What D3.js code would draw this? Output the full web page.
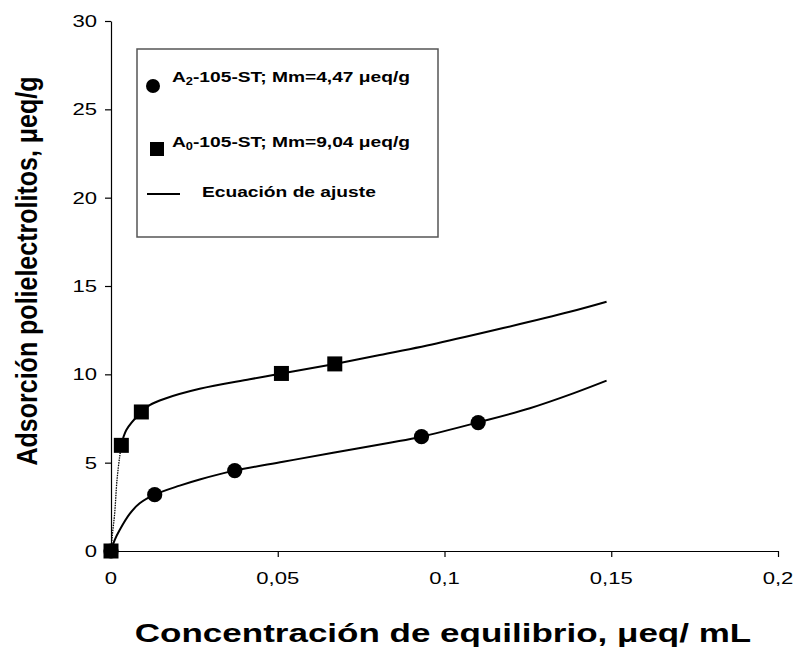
<!DOCTYPE html>
<html>
<head>
<meta charset="utf-8">
<script src="https://cdn.jsdelivr.net/npm/d3@7"></script>
<style>
  html, body { margin: 0; padding: 0; background: #fff; }
  svg { display: block; }
  text { font-family: "Liberation Sans", Arial, sans-serif; fill: #000; }
</style>
</head>
<body>
<svg id="chart" width="797" height="657"></svg>
<script>
// ---- data ----
const xTicks = [0, 0.05, 0.1, 0.15, 0.2];
const xTickLabels = ["0", "0,05", "0,1", "0,15", "0,2"];
const yTicks = [0, 5, 10, 15, 20, 25, 30];
const yTickLabels = ["0", "5", "10", "15", "20", "25", "30"];

// A2-105-ST (circles)
const a2X = [0, 0.0131, 0.0371, 0.0931, 0.1101];
const a2Y = [0, 3.19, 4.55, 6.47, 7.27];
// A0-105-ST (squares)
const a0X = [0, 0.0031, 0.0091, 0.0511, 0.0671];
const a0Y = [0, 5.98, 7.87, 10.05, 10.59];

// fitted curves
const fitA2X = [0, 0.0011, 0.0026, 0.0056, 0.0086, 0.0131, 0.0206, 0.0266, 0.0371, 0.0516, 0.0666, 0.0836, 0.0931, 0.1101, 0.1256, 0.1386, 0.1486];
const fitA2Y = [0, 0.62, 1.19, 2.10, 2.70, 3.19, 3.70, 4.05, 4.55, 5.05, 5.56, 6.13, 6.47, 7.28, 8.08, 8.92, 9.64];
const fitA0DotX = [0, 0.0004, 0.0011, 0.0018, 0.0026, 0.0031];
const fitA0DotY = [0, 0.9, 2.13, 4.02, 5.34, 5.98];
const fitA0X = [0.0031, 0.0046, 0.0091, 0.0116, 0.0161, 0.0266, 0.0416, 0.0511, 0.0671, 0.0806, 0.0976, 0.1176, 0.1376, 0.1486];
const fitA0Y = [5.98, 6.85, 7.87, 8.26, 8.62, 9.18, 9.72, 10.05, 10.59, 11.09, 11.75, 12.62, 13.54, 14.11];

const legendLabels = [
  { main: "A", sub: "2", rest: "-105-ST; Mm=4,47 \u03BCeq/g" },
  { main: "A", sub: "0", rest: "-105-ST; Mm=9,04 \u03BCeq/g" },
  { main: "Ecuación de ajuste", sub: "", rest: "" }
];
const xTitle = "Concentración de equilibrio, \u03BCeq/ mL";
const yTitle = "Adsorción polielectrolitos, \u03BCeq/g";

// ---- chart ----
const svg = d3.select("#chart");
const x = d3.scaleLinear().domain([0, 0.2]).range([111, 778]);
const y = d3.scaleLinear().domain([0, 30]).range([551, 21]);

function stext(g, tx, ty, str, opts) {
  const t = g.append("text")
    .attr("transform", `translate(${tx},${ty}) scale(${opts.sx || 1},1)` + (opts.rot ? ` rotate(${opts.rot})` : ""))
    .attr("text-anchor", opts.anchor || "start")
    .style("font-size", opts.size + "px")
    .style("font-weight", opts.bold ? "bold" : "normal");
  if (opts.dy) t.attr("dy", opts.dy);
  t.text(str);
  return t;
}

// axes (lines + ticks)
const xAxis = d3.axisBottom(x).tickValues(xTicks).tickSize(6).tickSizeOuter(0).tickFormat("");
const yAxis = d3.axisLeft(y).tickValues(yTicks).tickSize(6).tickSizeOuter(0).tickFormat("");
svg.append("g").attr("transform", `translate(0,${y(0)})`).call(xAxis)
  .call(g => g.selectAll("path,line").attr("stroke", "#000").attr("stroke-width", 1.2));
svg.append("g").attr("transform", `translate(${x(0)},0)`).call(yAxis)
  .call(g => g.selectAll("path,line").attr("stroke", "#000").attr("stroke-width", 1.2));

// tick labels
const tl = svg.append("g");
xTicks.forEach((v, i) => stext(tl, x(v), 584, xTickLabels[i], { size: 17, sx: 1.3, anchor: "middle" }));
yTicks.forEach((v, i) => stext(tl, 97, y(v) + 6, yTickLabels[i], { size: 17, sx: 1.3, anchor: "end" }));

// titles
stext(svg, 443, 642, xTitle, { size: 25, sx: 1.4, bold: true, anchor: "middle" });
stext(svg, 37, 271, yTitle, { size: 25, sx: 1.2, bold: true, anchor: "middle", rot: -90 });

// fit lines
const line = d3.line().x(d => x(d[0])).y(d => y(d[1])).curve(d3.curveCatmullRom.alpha(0.5));
const zip = (a, b) => a.map((v, i) => [v, b[i]]);
const plot = svg.append("g");
plot.append("path").datum(zip(fitA0DotX, fitA0DotY)).attr("d", line)
  .attr("fill", "none").attr("stroke", "#000").attr("stroke-width", 1.3).attr("stroke-dasharray", "1.5,1");
plot.append("path").datum(zip(fitA0X, fitA0Y)).attr("d", line)
  .attr("fill", "none").attr("stroke", "#000").attr("stroke-width", 2);
plot.append("path").datum(zip(fitA2X, fitA2Y)).attr("d", line)
  .attr("fill", "none").attr("stroke", "#000").attr("stroke-width", 2);

// markers
plot.selectAll("circle.a2").data(zip(a2X, a2Y)).join("circle").attr("class", "a2")
  .attr("cx", d => x(d[0])).attr("cy", d => y(d[1])).attr("r", 7.6).attr("fill", "#000");
const sq = 15;
plot.selectAll("rect.a0").data(zip(a0X, a0Y)).join("rect").attr("class", "a0")
  .attr("x", d => x(d[0]) - sq / 2).attr("y", d => y(d[1]) - sq / 2)
  .attr("width", sq).attr("height", sq).attr("fill", "#000");

// legend
const lg = svg.append("g");
lg.append("rect").attr("x", 137).attr("y", 49).attr("width", 301).attr("height", 188)
  .attr("fill", "#fff").attr("stroke", "#555").attr("stroke-width", 1.5);
lg.append("circle").attr("cx", 153).attr("cy", 86).attr("r", 7).attr("fill", "#000");
lg.append("rect").attr("x", 150).attr("y", 142).attr("width", 14).attr("height", 14).attr("fill", "#000");
lg.append("line").attr("x1", 147).attr("x2", 180).attr("y1", 194).attr("y2", 194)
  .attr("stroke", "#000").attr("stroke-width", 2);
const legY = [82, 147, 197];
const legX = [172, 172, 202];
legendLabels.forEach((l, i) => {
  const t = lg.append("text")
    .attr("transform", `translate(${legX[i]},${legY[i]}) scale(1.28,1)`)
    .style("font-size", "15px").style("font-weight", "bold");
  t.append("tspan").text(l.main);
  if (l.sub) t.append("tspan").attr("dy", 3).style("font-size", "10px").text(l.sub);
  if (l.rest) t.append("tspan").attr("dy", l.sub ? -3 : 0).text(l.rest);
});
</script>
</body>
</html>
